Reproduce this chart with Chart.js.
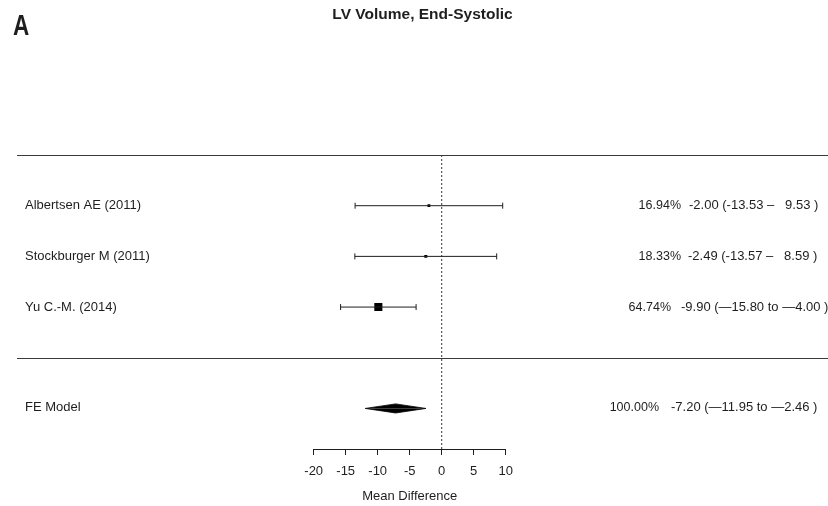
<!DOCTYPE html>
<html>
<head>
<meta charset="utf-8">
<script src="https://cdn.jsdelivr.net/npm/chart.js@4/dist/chart.umd.min.js"></script>
<style>
  html, body { margin: 0; padding: 0; background: #ffffff; }
  #wrap { width: 828px; height: 506px; }
</style>
</head>
<body>
<div id="wrap"><canvas id="forest" width="828" height="506"></canvas></div>
<script>
// Studies and their mean differences with 95% CI
const studies   = ['Albertsen AE (2011)', 'Stockburger M (2011)', 'Yu C.-M. (2014)'];
const meanDiff  = [-2.00, -2.49, -9.90];
const ciLower   = [-13.53, -13.57, -15.80];
const ciUpper   = [9.53, 8.59, -4.00];
const weights   = [16.94, 18.33, 64.74];
const ciFormat  = ['dash', 'dash', 'to'];

// Fixed-effect pooled estimate
const pooledLabel  = 'FE Model';
const pooledEst    = -7.20;
const pooledLower  = -11.95;
const pooledUpper  = -2.46;
const pooledWeight = 100.00;

// Axis
const xTicks = [-20, -15, -10, -5, 0, 5, 10];
const xTitle = 'Mean Difference';
const chartTitle = 'LV Volume, End-Systolic';
const panelLetter = 'A';

// Row layout on the vertical scale (0 = top rule, 4 = separator rule)
const studyRows = studies.map((_, i) => i + 1);
const separatorRow = 4;
const pooledRow = 5;
const yBottom = 5.8;

const INK = '#1e1e1e';
const FONT = "'Liberation Sans', Arial, Helvetica, sans-serif";

function fmt(v) { return v.toFixed(2); }
function fmtDash(v) { return v < 0 ? '\u2014' + Math.abs(v).toFixed(2) : v.toFixed(2); }
function ciText(est, lo, hi, style) {
  if (style === 'to') return fmt(est) + ' (' + fmtDash(lo) + ' to ' + fmtDash(hi) + ' )';
  const hiStr = hi < 10 && hi >= 0 ? '  ' + fmt(hi) : fmt(hi);
  return fmt(est) + ' (' + fmt(lo) + ' \u2013 ' + hiStr + ' )';
}

// Square size grows with study weight
const wMin = Math.min(...weights), wMax = Math.max(...weights);
const squareRadius = weights.map(w => 2 + (w - wMin) / (wMax - wMin) * 3.7);

const datasets = [];

// Confidence interval whiskers with end caps
studies.forEach((s, i) => {
  datasets.push({
    label: s + ' CI',
    data: [{ x: ciLower[i], y: studyRows[i] }, { x: ciUpper[i], y: studyRows[i] }],
    borderColor: INK,
    borderWidth: 1,
    pointStyle: 'line',
    rotation: 90,
    pointRadius: 3,
    pointBorderWidth: 1,
    pointBorderColor: INK,
    fill: false
  });
});

// Point estimates
datasets.push({
  label: 'Estimates',
  data: studies.map((s, i) => ({ x: meanDiff[i], y: studyRows[i] })),
  showLine: false,
  pointStyle: 'rect',
  pointRadius: squareRadius,
  pointBackgroundColor: '#000',
  pointBorderWidth: 0,
  borderWidth: 0
});

// Pooled diamond (upper and lower halves filled to the row line)
const halfH = 0.09;
[-halfH, halfH].forEach((d, k) => {
  datasets.push({
    label: 'Pooled ' + k,
    data: [
      { x: pooledLower, y: pooledRow },
      { x: pooledEst, y: pooledRow + d },
      { x: pooledUpper, y: pooledRow }
    ],
    borderColor: '#000',
    borderWidth: 0.8,
    backgroundColor: '#000',
    pointRadius: 0,
    fill: { value: pooledRow }
  });
});

// Line of no effect
datasets.push({
  label: 'No effect',
  data: [{ x: 0, y: 0 }, { x: 0, y: yBottom }],
  borderColor: '#333',
  borderWidth: 1,
  borderDash: [2, 2],
  pointRadius: 0,
  fill: false
});

const annotate = {
  id: 'annotate',
  afterDraw(chart) {
    const ctx = chart.ctx;
    const ys = chart.scales.y;
    ctx.save();

    // horizontal rules
    ctx.strokeStyle = '#3a3a3a';
    ctx.lineWidth = 1.2;
    [0, separatorRow].forEach(v => {
      const py = Math.round(ys.getPixelForValue(v)) + 0.5;
      ctx.beginPath();
      ctx.moveTo(17, py);
      ctx.lineTo(828, py);
      ctx.stroke();
    });

    ctx.fillStyle = INK;

    // panel letter
    ctx.save();
    ctx.font = 'bold 30px ' + FONT;
    ctx.textAlign = 'left';
    ctx.textBaseline = 'alphabetic';
    ctx.translate(13, 35);
    ctx.scale(0.75, 1);
    ctx.fillText(panelLetter, 0, 0);
    ctx.restore();

    // chart title
    ctx.font = 'bold 15.5px ' + FONT;
    ctx.textAlign = 'center';
    ctx.textBaseline = 'middle';
    ctx.fillText(chartTitle, 422.5, 15);

    // study labels
    ctx.font = '13px ' + FONT;
    ctx.textAlign = 'left';
    studies.forEach((s, i) => ctx.fillText(s, 25, ys.getPixelForValue(studyRows[i])));
    ctx.fillText(pooledLabel, 25, ys.getPixelForValue(pooledRow) - 1);

    // weights and estimates
    const pctRight = [681, 681, 671, 659];
    const estLeft = [689, 688, 681, 671];
    const rows = studyRows.concat([pooledRow]);
    const pct = weights.concat([pooledWeight]).map(w => w.toFixed(2) + '%');
    const est = studies.map((s, i) => ciText(meanDiff[i], ciLower[i], ciUpper[i], ciFormat[i]))
      .concat([ciText(pooledEst, pooledLower, pooledUpper, 'to')]);
    rows.forEach((r, i) => {
      const py = ys.getPixelForValue(r) - (i === 3 ? 1 : 0);
      ctx.font = '12.5px ' + FONT;
      ctx.textAlign = 'right';
      ctx.fillText(pct[i], pctRight[i], py);
      ctx.font = '13px ' + FONT;
      ctx.textAlign = 'left';
      ctx.fillText(est[i], estLeft[i], py);
    });

    ctx.restore();
  }
};

Chart.defaults.font.family = FONT;

new Chart(document.getElementById('forest'), {
  type: 'line',
  data: { datasets },
  options: {
    responsive: false,
    animation: false,
    events: [],
    layout: { padding: { left: 313.7, right: 322.3, top: 155, bottom: 0 } },
    plugins: { legend: { display: false }, tooltip: { enabled: false }, title: { display: false } },
    scales: {
      x: {
        type: 'linear',
        min: xTicks[0],
        max: xTicks[xTicks.length - 1],
        afterBuildTicks(scale) { scale.ticks = xTicks.map(v => ({ value: v })); },
        afterFit(scale) { scale.height = 57; },
        border: { display: true, color: INK, width: 1 },
        grid: { drawOnChartArea: false, drawTicks: true, tickLength: 6, color: INK, lineWidth: 1 },
        ticks: { color: INK, font: { size: 13 }, padding: 9, maxRotation: 0 },
        title: { display: true, text: xTitle, color: INK, font: { size: 13 }, padding: { top: 0, bottom: 2 } }
      },
      y: {
        type: 'linear',
        display: false,
        reverse: true,
        min: 0,
        max: yBottom
      }
    }
  },
  plugins: [annotate]
});
</script>
</body>
</html>
